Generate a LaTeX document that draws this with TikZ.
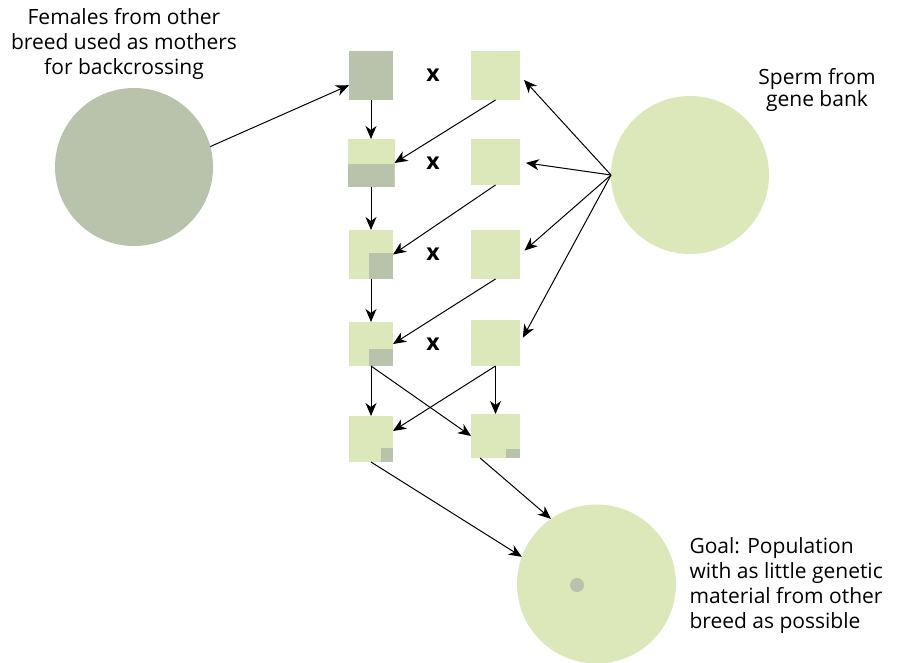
\documentclass[tikz,border=0pt]{standalone}
\usepackage{fontspec}
\setmainfont{Open Sans}
\usetikzlibrary{arrows.meta}
\usetikzlibrary{positioning}

\definecolor{oldbreed}{RGB}{185,194,171}
\definecolor{newbreed}{RGB}{220,232,185}

\tikzset{
  animal/.style={fill=newbreed, inner sep=0pt, outer sep=0pt, minimum width=44pt, minimum height=48pt},
  donor/.style={animal, minimum width=49pt},
  mother/.style={animal, fill=oldbreed},
  part/.style 2 args={path picture={\fill[oldbreed] (path picture bounding box.south east) rectangle ++(-#1,#2);}},
  herd/.style={circle, fill=newbreed, minimum size=158pt, inner sep=0pt, outer sep=0pt},
  txt/.style={font=\fontsize{21}{25}\selectfont, inner sep=0pt},
  cross/.style={font=\fontsize{23}{23}\selectfont\bfseries}
}

\begin{document}
\begin{tikzpicture}[x=1pt,y=-1pt,node distance=124.5pt,on grid,auto,
    >={Stealth[length=13pt,width=11pt,inset=4pt]}, line width=1pt]
        \useasboundingbox (0,0) rectangle (901,662);
        \node[herd, fill=oldbreed] (fem) at (134,167) {};
        \node[herd] (bank) at (690,175) {};
        \node[herd, minimum size=159pt] (goal) at (596.5,584) {};
        \node[circle, fill=oldbreed, minimum size=14pt, inner sep=0pt] (blob) at (577,585) {};

        \node[txt, align=center] (femtxt) at (124,44) {Females from other\\breed used as mothers\\for backcrossing};
        \node[txt, align=center, font=\fontsize{21}{20}\selectfont] (banktxt) at (817,90) {Sperm from\\gene bank};
        \node[txt, align=left, anchor=west] (goaltxt) at (689,586) {Goal: Population\\with as little genetic\\material from other\\breed as possible};

        % backcrossing generations
        \node[mother, minimum height=49pt] (l1) at (371,75.5) {};
        \node[donor, minimum height=49pt] (r1) [right=of l1] {};
        \node[animal, minimum width=47pt, part={47pt}{23pt}] (l2) [below=87.5pt of l1] {};
        \node[donor, minimum height=46pt] (r2) [right=of l2, yshift=1pt] {};
        \node[animal, minimum height=49pt, part={24pt}{26pt}] (l3) [below=91.5pt of l2] {};
        \node[donor, minimum height=49pt] (r3) [right=of l3] {};
        \node[animal, minimum height=44pt, part={24pt}{17pt}] (l4) [below=89.5pt of l3] {};
        \node[donor, minimum height=46pt] (r4) [right=of l4, yshift=1pt] {};
        \node[animal, minimum height=46pt, part={12pt}{14pt}] (l5) [below=95pt of l4] {};
        \node[donor, minimum height=44pt, part={14pt}{9pt}] (r5) [right=of l5, yshift=3pt] {};

        \node[cross] (x1) [right=62pt of l1] {x};
        \node[cross] (x2) [right=62pt of l2] {x};
        \node[cross] (x3) [right=62pt of l3] {x};
        \node[cross] (x4) [right=62pt of l4] {x};

        \path[->]
        (fem.15) edge (l1)
        (l1.south) edge (l2.north)
        (l2.south) edge (l3.north)
        (l3.south) edge (l4.north)
        (l4.south) edge (l5.north)
        (r1.south) edge (l2.east)
        (r2.south) edge (l3.east)
        (r3.south) edge (l4.east)
        (r4.south) edge (l5.20)
        (l4.south) edge (r5.west)
        (r4.south) edge (r5.north)
        (l5.south) edge (goal.160)
        (r5.-125) edge (goal.125);
        \path[->, shorten >=6pt]
        (bank.west) edge (r1.east)
        (bank.west) edge (r2.east)
        (bank.west) edge (r3.east)
        (bank.west) edge (r4.east);
    \end{tikzpicture}
\end{document}
